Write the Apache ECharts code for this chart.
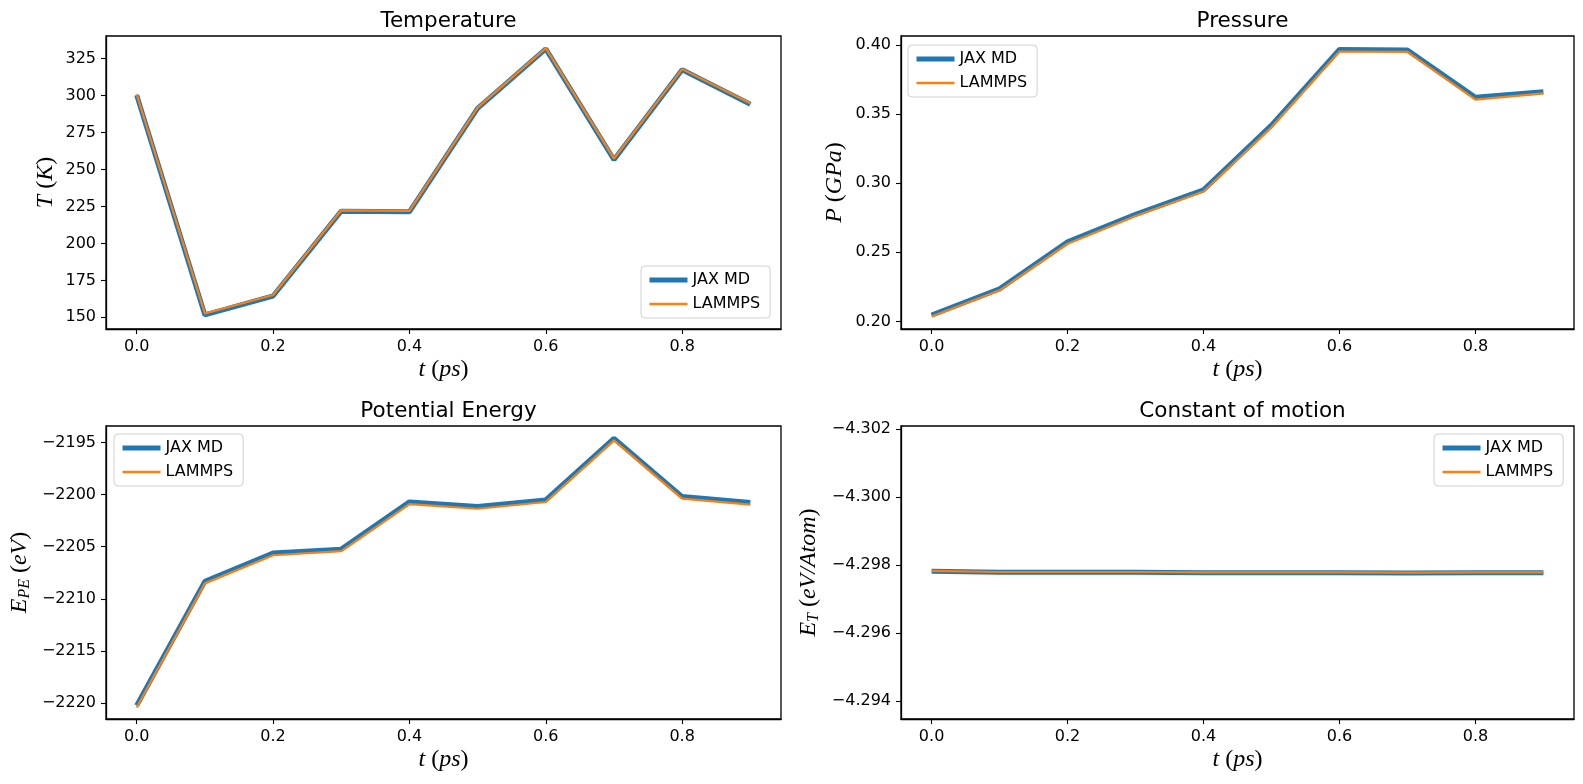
<!DOCTYPE html>
<html>
<head>
<meta charset="utf-8">
<script src="https://cdn.jsdelivr.net/npm/echarts@6/dist/echarts.min.js"></script>
<style>
  html, body { margin: 0; padding: 0; background: #fff; }
  #chart1 { width: 1583px; height: 784px; }
</style>
</head>
<body>
<div id="chart1"></div>
<script>
// 初始化echarts实例
let chart1 = echarts.init(document.getElementById('chart1'));

// line colours (matplotlib tab10)
let colorJax = '#1f77b4';
let colorLmp = '#ff7f0e';

// time axis, ps
let t = [0.0, 0.1, 0.2, 0.3, 0.4, 0.5, 0.6, 0.7, 0.8, 0.9];
let xTicks = [0.0, 0.2, 0.4, 0.6, 0.8];

// Temperature (K)
let tempJax = [300.3, 151.6, 164.4, 221.8, 221.4, 291.3, 331.6, 256.6, 317.4, 294.2];
let tempLmp = [300.9, 152.6, 165.1, 222.4, 222.0, 291.9, 332.1, 257.3, 317.9, 294.8];
let tempTicks = [150, 175, 200, 225, 250, 275, 300, 325];

// Pressure (GPa)
let presJax = [0.2045, 0.2235, 0.2575, 0.2775, 0.2952, 0.3420, 0.3968, 0.3963, 0.3622, 0.3662];
let presLmp = [0.2035, 0.2225, 0.2562, 0.2762, 0.2940, 0.3405, 0.3953, 0.3950, 0.3605, 0.3650];
let presTicks = [0.20, 0.25, 0.30, 0.35, 0.40];

// Potential energy (eV)
let peJax = [-2220.26, -2208.33, -2205.60, -2205.23, -2200.69, -2201.14, -2200.50, -2194.58, -2200.18, -2200.75];
let peLmp = [-2220.45, -2208.52, -2205.82, -2205.42, -2200.90, -2201.35, -2200.70, -2194.78, -2200.38, -2200.96];
let peTicks = [-2220, -2215, -2210, -2205, -2200, -2195];

// Constant of motion (eV/Atom)
let etJax = [-4.29782, -4.29779, -4.29779, -4.29779, -4.29778, -4.29778, -4.29778, -4.29777, -4.29778, -4.29778];
let etLmp = [-4.29783, -4.29780, -4.29780, -4.29780, -4.29779, -4.29779, -4.29779, -4.29778, -4.29779, -4.29779];
let etTicks = [-4.302, -4.300, -4.298, -4.296, -4.294];

let minus = '\u2212';
let font = 'DejaVu Sans';
let mathFont = 'Liberation Serif';

// rich styles for the math-like axis names
let rich = {
    i: { fontFamily: mathFont, fontStyle: 'italic', fontSize: 24, color: '#000' },
    r: { fontFamily: mathFont, fontSize: 24, color: '#000' },
    s: { fontFamily: mathFont, fontStyle: 'italic', fontSize: 16, color: '#000', verticalAlign: 'bottom', padding: [10, 0, 0, 0] }
};

let panels = [{
    title: 'Temperature',
    left: 106, top: 36, width: 675, height: 293,
    yMin: 142.1, yMax: 340.3, inverse: false,
    ticks: tempTicks, fmt: v => String(v),
    jax: tempJax, lmp: tempLmp,
    yName: '{i|T}{r| (}{i|K}{r|)}', yGap: 48,
    legend: { left: 641, top: 266 }
}, {
    title: 'Pressure',
    left: 901, top: 36, width: 673, height: 293,
    yMin: 0.1945, yMax: 0.4065, inverse: false,
    ticks: presTicks, fmt: v => v.toFixed(2),
    jax: presJax, lmp: presLmp,
    yName: '{i|P}{r| (}{i|GPa}{r|)}', yGap: 54,
    legend: { left: 908, top: 45 }
}, {
    title: 'Potential Energy',
    left: 106, top: 426, width: 675, height: 293,
    yMin: -2221.55, yMax: -2193.4, inverse: false,
    ticks: peTicks, fmt: v => minus + Math.abs(v),
    jax: peJax, lmp: peLmp,
    yName: '{i|E}{s|PE}{r| (}{i|eV}{r|)}', yGap: 73,
    legend: { left: 114, top: 434 }
}, {
    title: 'Constant of motion',
    left: 901, top: 426, width: 673, height: 293,
    yMin: -4.30209, yMax: -4.29348, inverse: true,
    ticks: etTicks, fmt: v => minus + Math.abs(v).toFixed(3),
    jax: etJax, lmp: etLmp,
    yName: '{i|E}{s|T}{r| (}{i|eV/Atom}{r|)}', yGap: 79,
    legend: { left: 1434, top: 434 }
}];

let grids = [], xAxes = [], yAxes = [], series = [], titles = [], legends = [];

panels.forEach((p, k) => {
    grids.push({
        left: p.left, top: p.top, width: p.width, height: p.height,
        show: true, borderColor: '#000', borderWidth: 1.3, backgroundColor: '#fff'
    });
    titles.push({
        text: p.title,
        left: p.left + p.width / 2,
        top: p.top - 31,
        textAlign: 'center',
        textStyle: { fontFamily: font, fontSize: 21.5, fontWeight: 'normal', color: '#000' }
    });
    xAxes.push({
        type: 'value', gridIndex: k,
        min: -0.045, max: 0.945,
        name: '{i|t}{r| (}{i|ps}{r|)}',
        nameLocation: 'middle', nameGap: 29,
        nameTextStyle: { rich: rich },
        axisLine: { onZero: false, lineStyle: { color: '#000', width: 1.3 } },
        axisTick: { customValues: xTicks, length: 5, lineStyle: { color: '#000', width: 1.1 } },
        axisLabel: { customValues: xTicks, formatter: v => v.toFixed(1), margin: 10, fontFamily: font, fontSize: 16, color: '#000' },
        splitLine: { show: false }
    });
    yAxes.push({
        type: 'value', gridIndex: k,
        min: p.yMin, max: p.yMax, inverse: p.inverse,
        name: p.yName,
        nameLocation: 'middle', nameGap: p.yGap, nameRotate: 90,
        nameTextStyle: { rich: rich },
        axisLine: { onZero: false, lineStyle: { color: '#000', width: 1.3 } },
        axisTick: { customValues: p.ticks, length: 5, lineStyle: { color: '#000', width: 1.1 } },
        axisLabel: { customValues: p.ticks, formatter: p.fmt, margin: 10, fontFamily: font, fontSize: 16, color: '#000' },
        splitLine: { show: false }
    });
    series.push({
        name: 'JAX MD', type: 'line', xAxisIndex: k, yAxisIndex: k,
        symbol: 'none', color: colorJax,
        lineStyle: { width: 5, color: colorJax },
        data: t.map((x, i) => [x, p.jax[i]])
    }, {
        name: 'LAMMPS', type: 'line', xAxisIndex: k, yAxisIndex: k,
        symbol: 'none', color: colorLmp,
        lineStyle: { width: 2.2, color: colorLmp },
        data: t.map((x, i) => [x, p.lmp[i]])
    });
    legends.push({
        left: p.legend.left, top: p.legend.top,
        orient: 'vertical',
        itemWidth: 38, itemHeight: 14, itemGap: 8,
        padding: [6, 10, 6, 6],
        backgroundColor: 'rgba(255,255,255,0.8)',
        borderColor: '#d0d0d0', borderWidth: 1, borderRadius: 4,
        selectedMode: false,
        textStyle: { fontFamily: font, fontSize: 16, color: '#000' },
        data: [
            { name: 'JAX MD', itemStyle: { opacity: 0 }, lineStyle: { width: 5 } },
            { name: 'LAMMPS', itemStyle: { opacity: 0 }, lineStyle: { width: 2.5 } }
        ]
    });
});

// 指定图表的配置项和数据
let option = {
    backgroundColor: '#fff',
    animation: false,
    title: titles,
    legend: legends,
    grid: grids,
    xAxis: xAxes,
    yAxis: yAxes,
    series: series
};
window.onresize = chart1.resize;
chart1.setOption(option);
</script>
</body>
</html>
